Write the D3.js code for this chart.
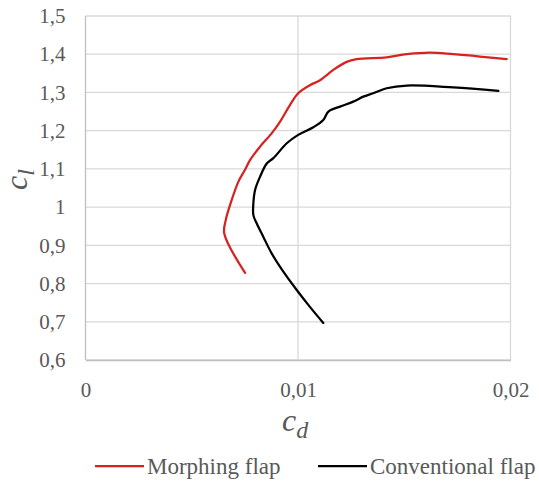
<!DOCTYPE html>
<html>
<head>
<meta charset="utf-8">
<script src="https://cdn.jsdelivr.net/npm/d3@7"></script>
<style>
  body { margin: 0; background: #fff; }
  svg text { font-family: "Liberation Serif", "Times New Roman", "DejaVu Serif", serif; }
</style>
</head>
<body>
<div id="chart"></div>
<script>
// Lift coefficient vs drag coefficient
var morphCd = [0.00751, 0.00653, 0.0066, 0.0068, 0.00719, 0.0075, 0.00774, 0.00821, 0.00876, 0.00915,
               0.00962, 0.01001, 0.01056, 0.01104, 0.01166, 0.01229, 0.01276, 0.01417, 0.01512, 0.01621,
               0.01731, 0.01856, 0.01982]
var morphCl = [0.828, 0.931, 0.966, 1.005, 1.066, 1.097, 1.123, 1.158, 1.193, 1.223,
               1.267, 1.298, 1.319, 1.332, 1.359, 1.38, 1.387, 1.392, 1.40, 1.404,
               1.40, 1.394, 1.387]

var convCd = [0.01119, 0.01056, 0.00994, 0.00931, 0.00876, 0.00837, 0.00806, 0.0079, 0.0079, 0.00798,
              0.00821, 0.00853, 0.00884, 0.00947, 0.01001, 0.01072, 0.01119, 0.01143, 0.01198, 0.0126,
              0.01307, 0.01354, 0.01417, 0.01512, 0.01731, 0.01943]
var convCl = [0.697, 0.739, 0.783, 0.831, 0.879, 0.922, 0.957, 0.979, 1.01, 1.045,
              1.079, 1.114, 1.128, 1.167, 1.189, 1.209, 1.228, 1.25, 1.263, 1.276,
              1.289, 1.298, 1.311, 1.318, 1.313, 1.304]

var xTicks = [0, 0.01, 0.02]
var yTicks = [0.6, 0.7, 0.8, 0.9, 1, 1.1, 1.2, 1.3, 1.4, 1.5]
var seriesNames = ["Morphing flap", "Conventional flap"]
var seriesColors = ["#d7231f", "#000000"]

var width = 539, height = 486
var margin = { top: 16, right: 28.5, bottom: 126, left: 85.5 }
var serif = "'Liberation Serif', 'Times New Roman', 'DejaVu Serif', serif"

var svg = d3.select("#chart").append("svg")
    .attr("width", width)
    .attr("height", height)

var x = d3.scaleLinear().domain([0, 0.02]).range([margin.left, width - margin.right])
var y = d3.scaleLinear().domain([0.6, 1.5]).range([height - margin.bottom, margin.top])

// comma decimals like the original
var fmt = function (d) { return String(+d.toFixed(3)).replace(".", ",") }

// gridlines
svg.append("g")
    .selectAll("line")
    .data(yTicks)
    .enter().append("line")
    .attr("x1", x(0)).attr("x2", x(0.02))
    .attr("y1", d => y(d)).attr("y2", d => y(d))
    .attr("stroke", "#d9d9d9")
    .attr("stroke-width", 1.3)

svg.append("g")
    .selectAll("line")
    .data(xTicks)
    .enter().append("line")
    .attr("x1", d => x(d)).attr("x2", d => x(d))
    .attr("y1", y(0.6)).attr("y2", y(1.5))
    .attr("stroke", d => d === 0 ? "#bfbfbf" : "#d9d9d9")
    .attr("stroke-width", 1.3)

// axes (labels only)
var xAxis = svg.append("g")
    .attr("transform", "translate(0," + y(0.6) + ")")
    .call(d3.axisBottom(x).tickValues(xTicks).tickFormat(fmt).tickSize(0).tickPadding(22))
xAxis.select(".domain").attr("stroke", "#bfbfbf").attr("stroke-width", 1.3)

var yAxis = svg.append("g")
    .attr("transform", "translate(" + x(0) + ",0)")
    .call(d3.axisLeft(y).tickValues(yTicks).tickFormat(fmt).tickSize(0).tickPadding(20))
yAxis.select(".domain").remove()

svg.selectAll("g").attr("font-family", null)
svg.selectAll(".tick text")
    .attr("fill", "#595959")
    .style("font-size", "21px")
    .style("font-family", serif)

// series
var line = d3.line()
    .x(d => x(d[0]))
    .y(d => y(d[1]))
    .curve(d3.curveCatmullRom.alpha(0.5))

var series = [
    morphCd.map((d, i) => [d, morphCl[i]]),
    convCd.map((d, i) => [d, convCl[i]])
]

svg.append("g")
    .selectAll("path")
    .data(series)
    .enter().append("path")
    .attr("d", line)
    .attr("fill", "none")
    .attr("stroke", (d, i) => seriesColors[i])
    .attr("stroke-width", 2.25)
    .attr("stroke-linejoin", "round")
    .attr("stroke-linecap", "round")

// axis titles
var xt = svg.append("text")
    .attr("x", 282)
    .attr("y", 431)
    .attr("fill", "#595959")
    .style("font-family", serif)
    .style("font-size", "32px")
    .style("font-style", "italic")
xt.append("tspan").text("c")
xt.append("tspan").attr("dy", 7).style("font-size", "24px").text("d")

var yt = svg.append("text")
    .attr("transform", "translate(27,190) rotate(-90)")
    .attr("fill", "#595959")
    .style("font-family", serif)
    .style("font-size", "32px")
    .style("font-style", "italic")
yt.append("tspan").text("c")
yt.append("tspan").attr("dy", 7).style("font-size", "24px").text("l")

// legend
var legendX = [95, 318]
var legend = svg.append("g")
    .selectAll("g")
    .data(seriesNames)
    .enter().append("g")
    .attr("transform", (d, i) => "translate(" + legendX[i] + ",466)")

legend.append("line")
    .attr("x1", 0).attr("x2", 49)
    .attr("stroke", (d, i) => seriesColors[i])
    .attr("stroke-width", 2.25)

legend.append("text")
    .attr("x", 52)
    .attr("dy", "0.33em")
    .attr("fill", "#595959")
    .style("font-family", serif)
    .style("font-size", "23px")
    .text(d => d)
</script>
</body>
</html>
